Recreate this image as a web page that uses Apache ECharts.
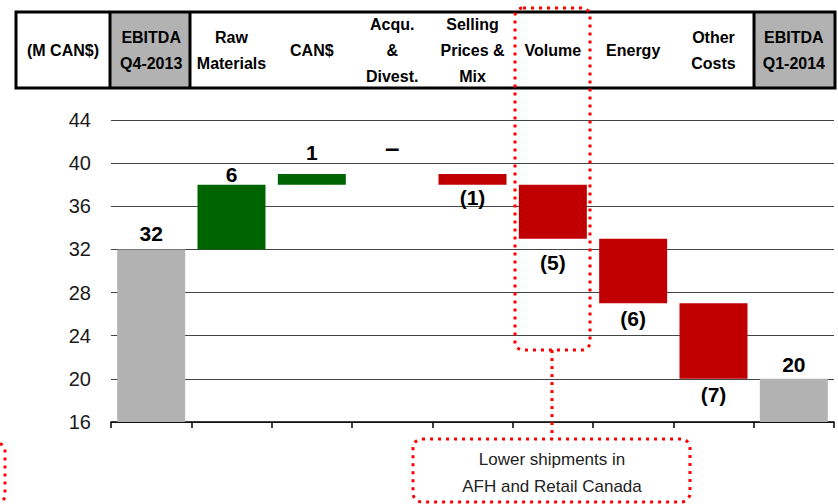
<!DOCTYPE html>
<html>
<head>
<meta charset="utf-8">
<script src="https://cdn.jsdelivr.net/npm/echarts@6/dist/echarts.min.js"></script>
<style>
  html, body { margin: 0; padding: 0; background: #fff; }
  #chart { width: 838px; height: 504px; }
</style>
</head>
<body>
<div id="chart"></div>
<script>
// EBITDA bridge, Q4-2013 to Q1-2014 (M CAN$)
const categories = [
  'EBITDA\nQ4-2013', 'Raw\nMaterials', 'CAN$', 'Acqu.\n&\nDivest.',
  'Selling\nPrices &\nMix', 'Volume', 'Energy', 'Other\nCosts', 'EBITDA\nQ1-2014'
];
const kinds = ['total', 'delta', 'delta', 'delta', 'delta', 'delta', 'delta', 'delta', 'total'];
const values = [32, 6, 1, 0, -1, -5, -6, -7, 20];
const unitLabel = '(M CAN$)';
const noteLines = ['Lower shipments in', 'AFH and Retail Canada'];

// ---- waterfall geometry derived from the values ----
const baseData = [], barData = [], labelData = [];
let running = 0;
values.forEach((v, i) => {
  let lo, hi, anchor, below = false;
  if (kinds[i] === 'total') {
    lo = 0; hi = v; running = v; anchor = v;
  } else {
    const start = running, end = running + v;
    lo = Math.min(start, end); hi = Math.max(start, end);
    running = end;
    if (v < 0) { anchor = lo; below = true; } else { anchor = hi; }
  }
  baseData.push(lo);
  barData.push(hi - lo);
  labelData.push({ value: [i, anchor], raw: v, below: below });
});

const GRAY = '#b2b2b2', GREEN = '#006400', RED = '#c00000';
const colorOf = i => kinds[i] === 'total' ? GRAY : (values[i] >= 0 ? GREEN : RED);
const fmt = v => v === 0 ? '\u2013' : (v < 0 ? '(' + (-v) + ')' : String(v));

const NARROW = "'Liberation Sans Narrow', 'Arial Narrow', 'Liberation Sans', Arial, sans-serif";
const SANS = "'Liberation Sans', Arial, sans-serif";

// gaps between each value label and its bar
const labelGap = [6, 0, 11, 16, 3, 14, 5, 6, 4];

const chart = echarts.init(document.getElementById('chart'), null, { renderer: 'svg' });

const dotted = { stroke: '#ff0000', fill: 'none', lineWidth: 3, lineDash: [3, 5], lineCap: 'butt' };

chart.setOption({
  animation: false,
  backgroundColor: '#fff',
  grid: { left: 111, right: 4, top: 120, bottom: 82 },
  xAxis: [
    {
      type: 'category', data: categories, position: 'bottom',
      axisLine: { lineStyle: { color: '#000', width: 1.5 } },
      axisTick: { show: true, interval: 0, length: 6, lineStyle: { color: '#000', width: 1.5 } },
      axisLabel: { show: false }
    },
    {
      type: 'category', data: categories, position: 'top',
      axisLine: { show: false }, axisTick: { show: false },
      axisLabel: {
        interval: 0, margin: 70, verticalAlign: 'middle', align: 'center',
        fontFamily: SANS, fontWeight: 'bold', fontSize: 16, lineHeight: 26, color: '#000'
      }
    }
  ],
  yAxis: {
    type: 'value', min: 16, max: 44, interval: 4,
    axisLine: { show: false }, axisTick: { show: false },
    splitLine: { lineStyle: { color: '#444', width: 1 } },
    axisLabel: { margin: 20, fontFamily: NARROW, fontSize: 20, color: '#1a1a1a' }
  },
  series: [
    {
      type: 'bar', stack: 'wf', data: baseData, barWidth: 68, silent: true,
      itemStyle: { color: 'rgba(0,0,0,0)' }
    },
    {
      type: 'bar', stack: 'wf', barWidth: 68,
      data: barData.map((h, i) => ({ value: h, itemStyle: { color: colorOf(i) } }))
    },
    {
      type: 'scatter', symbolSize: 0, silent: true,
      itemStyle: { opacity: 1 },
      data: labelData.map((d, i) => ({
        value: d.value,
        label: {
          show: true,
          position: d.below ? 'bottom' : 'top',
          distance: labelGap[i],
          formatter: () => fmt(d.raw),
          fontFamily: NARROW, fontWeight: 'bold', fontSize: d.raw === 0 ? 26 : 21,
          lineHeight: 20, color: '#000'
        }
      }))
    }
  ],
  graphic: [
    // header table
    { type: 'rect', shape: { x: 110, y: 12, width: 80, height: 76 }, style: { fill: GRAY }, z: 0 },
    { type: 'rect', shape: { x: 754, y: 12, width: 81, height: 76 }, style: { fill: GRAY }, z: 0 },
    { type: 'rect', shape: { x: 16, y: 12, width: 819, height: 76 }, style: { fill: 'none', stroke: '#000', lineWidth: 3 }, z: 10 },
    { type: 'line', shape: { x1: 110, y1: 12, x2: 110, y2: 88 }, style: { stroke: '#000', lineWidth: 3 }, z: 10 },
    { type: 'line', shape: { x1: 190, y1: 12, x2: 190, y2: 88 }, style: { stroke: '#000', lineWidth: 3 }, z: 10 },
    { type: 'line', shape: { x1: 754, y1: 12, x2: 754, y2: 88 }, style: { stroke: '#000', lineWidth: 3 }, z: 10 },
    { type: 'text', x: 63, y: 50, z: 10, style: { text: unitLabel, fontFamily: SANS, fontWeight: 'bold', fontSize: 16, fill: '#000', align: 'center', verticalAlign: 'middle' } },
    // callout around Volume
    { type: 'rect', shape: { x: 515, y: 8, width: 75, height: 342, r: 8 }, style: dotted, z: 20 },
    { type: 'line', shape: { x1: 552, y1: 350, x2: 552, y2: 439 }, style: dotted, z: 20 },
    { type: 'rect', shape: { x: 413, y: 439, width: 277, height: 63, r: 9 }, style: dotted, z: 20 },
    { type: 'rect', shape: { x: -200, y: 443, width: 205, height: 60, r: 8 }, style: dotted, z: 20 },
    { type: 'text', x: 552, y: 473, z: 20, style: { text: noteLines.join('\n'), fontFamily: SANS, fontSize: 17, lineHeight: 27, fill: '#222', align: 'center', verticalAlign: 'middle' } }
  ]
});
</script>
</body>
</html>
